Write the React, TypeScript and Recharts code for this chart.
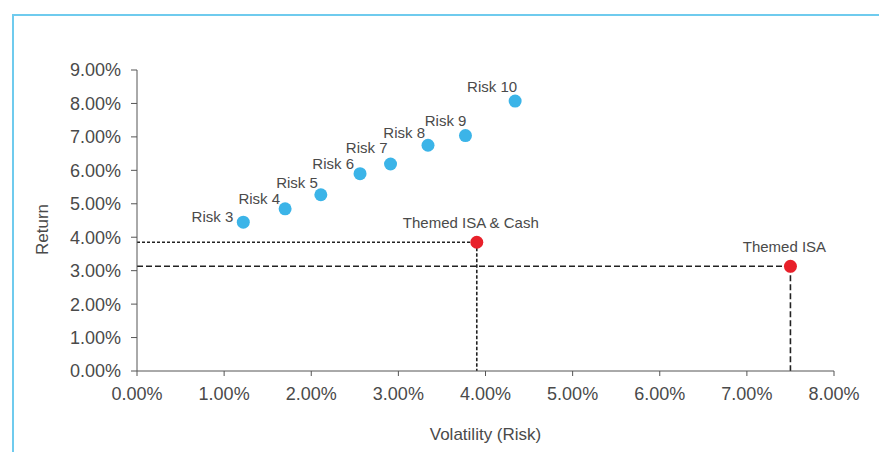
import React from "react";
import {
  ScatterChart,
  Scatter,
  XAxis,
  YAxis,
  ReferenceLine,
} from "recharts";

const riskNames = ["Risk 3", "Risk 4", "Risk 5", "Risk 6", "Risk 7", "Risk 8", "Risk 9", "Risk 10"];
const riskVolatility = [1.22, 1.7, 2.11, 2.56, 2.91, 3.34, 3.77, 4.34];
const riskReturn = [4.45, 4.85, 5.27, 5.9, 6.19, 6.75, 7.04, 8.07];

const isaNames = ["Themed ISA & Cash", "Themed ISA"];
const isaVolatility = [3.9, 7.5];
const isaReturn = [3.85, 3.13];

const xTicks = [0, 1, 2, 3, 4, 5, 6, 7, 8];
const yTicks = [0, 1, 2, 3, 4, 5, 6, 7, 8, 9];

// label placement for the risk points (end of text relative to dot, px)
const riskLabelDx = [-10, -5, -3, -6, -3, -3, 1, 2];
const riskLabelDy = [-5, -10, -12, -10, -16, -12, -15, -14];

const riskData = riskNames.map((name, i) => ({
  name,
  idx: i,
  x: riskVolatility[i],
  y: riskReturn[i],
}));
const isaData = isaNames.map((name, i) => ({
  name,
  idx: i,
  x: isaVolatility[i],
  y: isaReturn[i],
}));

const textColor = "#4a4a4a";
const font = "'Liberation Sans', Arial, sans-serif";
const pct = (v: number) => `${v.toFixed(2)}%`;

const RiskDot = (props: any) => {
  const { cx, cy, payload } = props;
  const i = payload.idx;
  return (
    <g>
      <circle cx={cx} cy={cy} r={6.5} fill="#3bb4e8" />
      <text
        x={cx + riskLabelDx[i]}
        y={cy + riskLabelDy[i] + 5}
        textAnchor="end"
        fontSize={15}
        fill={textColor}
        fontFamily={font}
      >
        {payload.name}
      </text>
    </g>
  );
};

const IsaDot = (props: any) => {
  const { cx, cy, payload } = props;
  return (
    <g>
      <circle cx={cx} cy={cy} r={6.5} fill="#e8202a" />
      <text
        x={cx - 6}
        y={cy - 14}
        textAnchor="middle"
        fontSize={15}
        fill={textColor}
        fontFamily={font}
      >
        {payload.name}
      </text>
    </g>
  );
};

const ReturnLabel = (props: any) => {
  const { viewBox } = props;
  const cy = viewBox.y + viewBox.height / 2 + 9;
  const cx = 28;
  return (
    <text
      x={cx}
      y={cy}
      transform={`rotate(-90, ${cx}, ${cy})`}
      textAnchor="middle"
      dominantBaseline="central"
      fontSize={17}
      fill={textColor}
      fontFamily={font}
    >
      Return
    </text>
  );
};

const App: React.FC = () => {
  return (
    <div
      style={{
        position: "relative",
        left: 4,
        top: 6,
        width: 871,
        height: 444,
        boxSizing: "border-box",
        borderTop: "2px solid #6fcbee",
        borderLeft: "2px solid #6fcbee",
        borderRight: "2px solid #6fcbee",
        background: "#fff",
        fontFamily: font,
      }}
    >
      <ScatterChart
        width={867}
        height={442}
        margin={{ top: 54, right: 47, left: 0, bottom: 0 }}
      >
        <XAxis
          type="number"
          dataKey="x"
          domain={[0, 8]}
          ticks={xTicks}
          tickFormatter={pct}
          height={87}
          tickSize={5}
          tickMargin={11}
          stroke="#555"
          tick={{ fontSize: 18, fill: textColor, fontFamily: font }}
          label={{
            value: "Volatility (Risk)",
            position: "insideBottom",
            offset: 18,
            fontSize: 17,
            fill: textColor,
            fontFamily: font,
          }}
        />
        <YAxis
          type="number"
          dataKey="y"
          domain={[0, 9]}
          ticks={yTicks}
          tickFormatter={pct}
          width={123}
          tickSize={6}
          tickMargin={10}
          stroke="#555"
          tick={{ fontSize: 18, fill: textColor, fontFamily: font }}
          label={<ReturnLabel />}
        />
        <ReferenceLine
          segment={[
            { x: 0, y: isaReturn[0] },
            { x: isaVolatility[0], y: isaReturn[0] },
          ]}
          stroke="#222"
          strokeWidth={1.6}
          strokeDasharray="3 2"
        />
        <ReferenceLine
          segment={[
            { x: isaVolatility[0], y: isaReturn[0] },
            { x: isaVolatility[0], y: 0 },
          ]}
          stroke="#222"
          strokeWidth={1.6}
          strokeDasharray="3.5 2"
        />
        <ReferenceLine
          segment={[
            { x: 0, y: isaReturn[1] },
            { x: isaVolatility[1], y: isaReturn[1] },
          ]}
          stroke="#222"
          strokeWidth={1.6}
          strokeDasharray="6 3"
        />
        <ReferenceLine
          segment={[
            { x: isaVolatility[1], y: isaReturn[1] },
            { x: isaVolatility[1], y: 0 },
          ]}
          stroke="#222"
          strokeWidth={1.6}
          strokeDasharray="6 3"
        />
        <Scatter data={riskData} shape={<RiskDot />} isAnimationActive={false} />
        <Scatter data={isaData} shape={<IsaDot />} isAnimationActive={false} />
      </ScatterChart>
    </div>
  );
};

export default App;
